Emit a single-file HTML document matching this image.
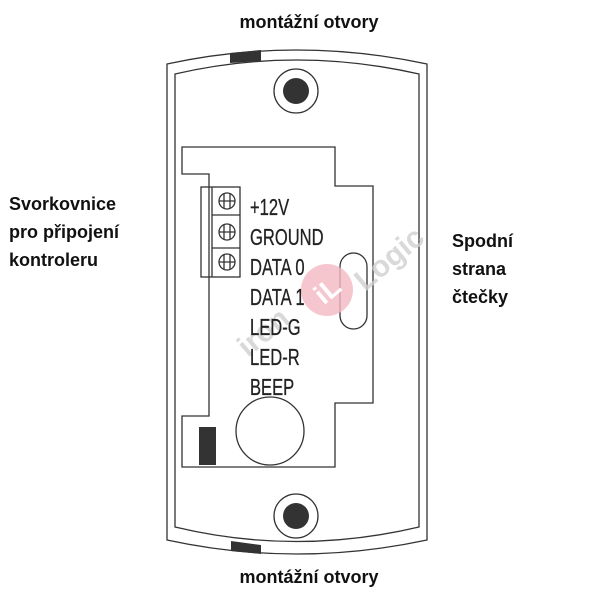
<!DOCTYPE html>
<html><head><meta charset="utf-8"><style>
html,body{margin:0;padding:0;background:#fff;width:600px;height:600px;overflow:hidden}
</style></head><body>
<svg width="600" height="600" viewBox="0 0 600 600" xmlns="http://www.w3.org/2000/svg">
<g fill="none" stroke="#333" stroke-width="1.3">
<path d="M167,540 L167,64 Q296,36 427,64 L427,540 Q296,568 167,540 Z"/>
<path d="M175,527 L175,74 Q296,46 419,74 L419,527 Q296,556 175,527 Z"/>
<circle cx="296" cy="91" r="22"/>
<circle cx="296" cy="516" r="22"/>
<path d="M182,147 L335,147 L335,186 L373,186 L373,403 L335,403 L335,467 L182,467 L182,416 L209,416 L209,174 L182,174 Z"/>
<rect x="201" y="187" width="39" height="90"/>
<line x1="212" y1="187" x2="212" y2="277"/>
<line x1="212" y1="215" x2="240" y2="215"/>
<line x1="212" y1="248" x2="240" y2="248"/>
<circle cx="227" cy="201" r="8"/>
<circle cx="227" cy="232" r="8"/>
<circle cx="227" cy="262" r="8"/>
<path d="M219,201 H235 M224,194 V208 M230,194 V208 M219,232 H235 M224,225 V239 M230,225 V239 M219,262 H235 M224,255 V269 M230,255 V269"/>
<rect x="340" y="253" width="27" height="76" rx="13.5"/>
<circle cx="270" cy="431" r="34"/>
</g>
<g fill="#333">
<circle cx="296" cy="91" r="13"/>
<circle cx="296" cy="516" r="13"/>
<path d="M230,53 L261,50 L261,61 L230,63 Z"/>
<path d="M231,541 L261,545 L261,554 L231,551 Z"/>
<rect x="199" y="427" width="17" height="38"/>
</g>
<circle cx="327" cy="290" r="26" fill="#f4b8c2" opacity="0.8"/>
<text x="327" y="300" font-family="Liberation Sans, sans-serif" font-weight="bold" font-size="28" fill="#fff" text-anchor="middle" transform="rotate(-40 327 290)">iL</text>
<text x="0" y="0" font-family="Liberation Sans, sans-serif" font-weight="bold" font-size="30" fill="#d0d0d0" opacity="0.8" transform="translate(248,358) rotate(-40)">iron</text>
<text x="0" y="0" font-family="Liberation Sans, sans-serif" font-weight="bold" font-size="30" fill="#d0d0d0" opacity="0.8" transform="translate(365,292) rotate(-40)">Logic</text>
<g font-family="Liberation Sans, sans-serif" font-size="23" fill="#222" stroke="#222" stroke-width="0.3">
<text transform="translate(250,215) scale(0.72,1)">+12V</text>
<text transform="translate(250,245) scale(0.72,1)">GROUND</text>
<text transform="translate(250,275) scale(0.72,1)">DATA 0</text>
<text transform="translate(250,305) scale(0.72,1)">DATA 1</text>
<text transform="translate(250,335) scale(0.72,1)">LED-G</text>
<text transform="translate(250,365) scale(0.72,1)">LED-R</text>
<text transform="translate(250,395) scale(0.72,1)">BEEP</text>
</g>
<g font-family="Liberation Sans, sans-serif" font-weight="bold" font-size="18" fill="#111">
<text x="9" y="210">Svorkovnice</text>
<text x="9" y="238">pro připojení</text>
<text x="9" y="266">kontroleru</text>
<text x="452" y="247">Spodní</text>
<text x="452" y="275">strana</text>
<text x="452" y="303">čtečky</text>
<text x="309" y="28" text-anchor="middle">montážní otvory</text>
<text x="309" y="583" text-anchor="middle">montážní otvory</text>
</g>
</svg>
</body></html>
